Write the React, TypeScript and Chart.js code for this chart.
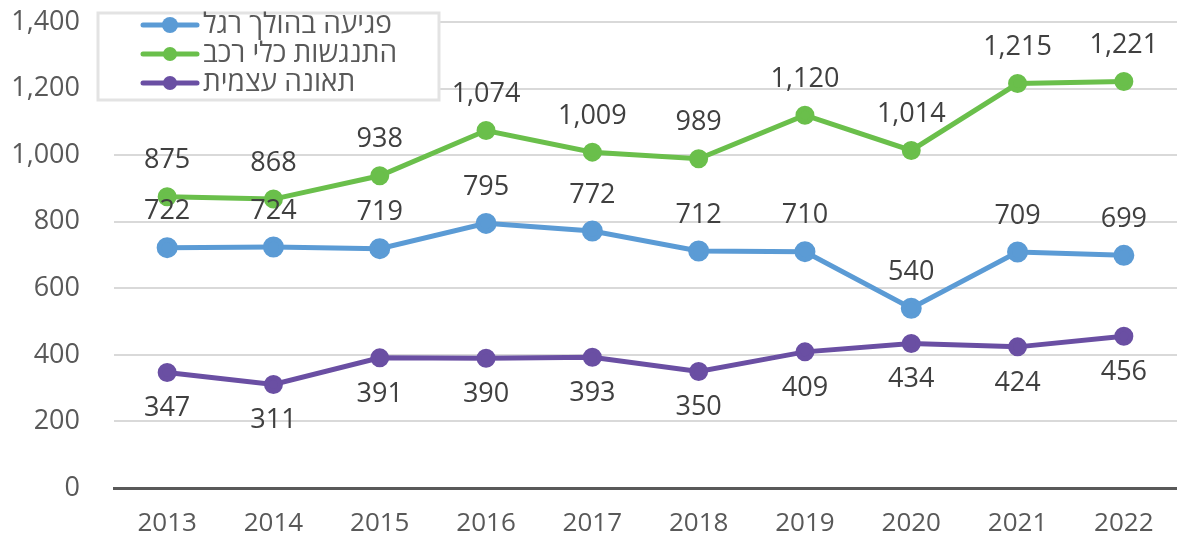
import React, { useEffect, useRef } from "react";
import { Chart, registerables } from "chart.js";

Chart.register(...registerables);

const years = ["2013", "2014", "2015", "2016", "2017", "2018", "2019", "2020", "2021", "2022"];
const pedestrian = [722, 724, 719, 795, 772, 712, 710, 540, 709, 699];
const collision = [875, 868, 938, 1074, 1009, 989, 1120, 1014, 1215, 1221];
const selfAccident = [347, 311, 391, 390, 393, 350, 409, 434, 424, 456];
const seriesNames = ["פגיעה בהולך רגל", "התנגשות כלי רכב", "תאונה עצמית"];
const yTicks = [0, 200, 400, 600, 800, 1000, 1200, 1400];

const FONT = "'Open Sans', 'Noto Sans', sans-serif";
const fmt = (v: number) => v.toLocaleString("en-US");

const labelPlugin = {
  id: "valueLabels",
  afterDatasetsDraw(chart: any) {
    const ctx = chart.ctx;
    ctx.save();
    ctx.font = `27px ${FONT}`;
    ctx.fillStyle = "#404040";
    ctx.textAlign = "center";
    ctx.textBaseline = "middle";
    chart.data.datasets.forEach((ds: any, i: number) => {
      const meta = chart.getDatasetMeta(i);
      const below = ds.labelPos === "below";
      meta.data.forEach((pt: any, j: number) => {
        const y = below ? pt.y + 36 : pt.y - 36;
        ctx.fillText(fmt(ds.data[j]), pt.x, y);
      });
    });
    ctx.restore();
  },
};

const legendPlugin = {
  id: "boxLegend",
  afterDatasetsDraw(chart: any) {
    const ctx = chart.ctx;
    const x0 = 98, y0 = 13, w = 341, h = 87;
    ctx.save();
    ctx.fillStyle = "#ffffff";
    ctx.fillRect(x0, y0, w, h);
    ctx.strokeStyle = "#e3e3e3";
    ctx.lineWidth = 3;
    ctx.strokeRect(x0, y0, w, h);
    ctx.font = `28px ${FONT}`;
    ctx.textAlign = "left";
    ctx.textBaseline = "middle";
    chart.data.datasets.forEach((ds: any, i: number) => {
      const cy = y0 + 12 + i * 29;
      ctx.strokeStyle = ds.borderColor;
      ctx.lineWidth = 5;
      ctx.lineCap = "round";
      ctx.beginPath();
      ctx.moveTo(143, cy);
      ctx.lineTo(197, cy);
      ctx.stroke();
      ctx.fillStyle = ds.borderColor;
      ctx.beginPath();
      ctx.arc(170, cy, i === 0 ? 8 : 7, 0, Math.PI * 2);
      ctx.fill();
      ctx.fillStyle = "#595959";
      ctx.fillText(ds.label, 203, cy);
    });
    ctx.restore();
  },
};

const zeroPad = (s: any) => {
  s.paddingLeft = 0;
  s.paddingRight = 0;
  s.paddingTop = 0;
  s.paddingBottom = 0;
};

export default function App() {
  const ref = useRef<HTMLCanvasElement | null>(null);
  useEffect(() => {
    if (!ref.current) return;
    const chart = new Chart(ref.current, {
      type: "line",
      data: {
        labels: years,
        datasets: [
          {
            label: seriesNames[0],
            data: pedestrian,
            borderColor: "#5b9bd5",
            backgroundColor: "#5b9bd5",
            borderWidth: 5,
            pointRadius: 8,
            pointHoverRadius: 8,
            labelPos: "above",
          } as any,
          {
            label: seriesNames[1],
            data: collision,
            borderColor: "#6abf4b",
            backgroundColor: "#6abf4b",
            borderWidth: 5,
            pointRadius: 7,
            pointHoverRadius: 7,
            labelPos: "above",
          } as any,
          {
            label: seriesNames[2],
            data: selfAccident,
            borderColor: "#6a4fa3",
            backgroundColor: "#6a4fa3",
            borderWidth: 5,
            pointRadius: 7,
            pointHoverRadius: 7,
            labelPos: "below",
          } as any,
        ],
      },
      options: {
        animation: false,
        responsive: false,
        maintainAspectRatio: false,
        layout: { autoPadding: false, padding: { top: 22, right: 0, left: 0, bottom: 0 } },
        plugins: { legend: { display: false }, tooltip: { enabled: false } },
        scales: {
          x: {
            offset: true,
            grid: { display: false, drawTicks: false },
            border: { display: true, color: "#595959", width: 3 },
            ticks: { color: "#595959", font: { size: 26, family: FONT }, padding: 20 },
            afterFit: (s: any) => { s.height = 47; zeroPad(s); },
          },
          y: {
            min: 0,
            max: 1400,
            afterBuildTicks: (s: any) => { s.ticks = yTicks.map((v) => ({ value: v })); },
            grid: {
              color: (c: any) => (c.tick && c.tick.value === 0 ? "rgba(0,0,0,0)" : "#d9d9d9"),
              lineWidth: 2,
              drawTicks: false,
            },
            border: { display: false },
            ticks: {
              color: "#595959",
              font: { size: 27, family: FONT },
              padding: 34,
              callback: (v: any) => fmt(Number(v)),
            },
            afterFit: (s: any) => { s.width = 114; zeroPad(s); },
          },
        },
      } as any,
      plugins: [labelPlugin, legendPlugin],
    });
    return () => chart.destroy();
  }, []);
  return (
    <div style={{ position: "absolute", left: 0, top: 0, width: 1177, height: 535, background: "#fff" }}>
      <canvas ref={ref} width={1177} height={535} style={{ width: 1177, height: 535 }} />
    </div>
  );
}
